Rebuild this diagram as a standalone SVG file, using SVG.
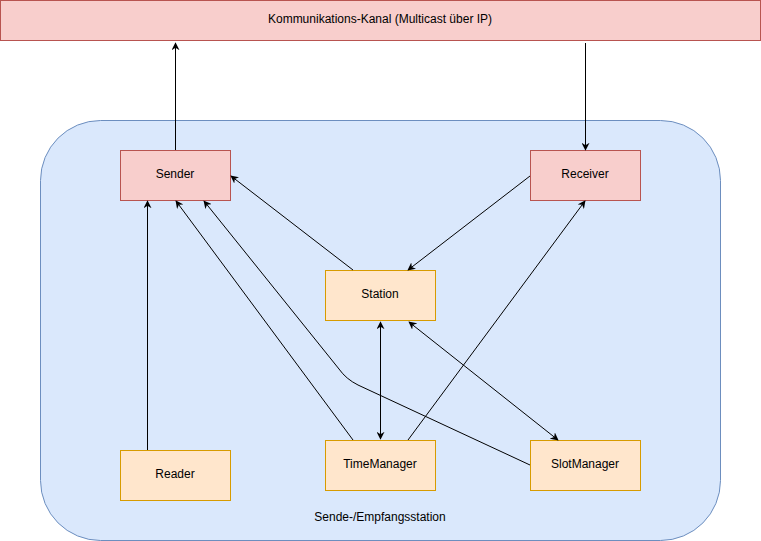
<svg xmlns="http://www.w3.org/2000/svg" width="761" height="541" viewBox="0 0 761 541">
<defs>
<style>
.red{fill:#f8cecc;stroke:#b85450;stroke-width:1}
.org{fill:#ffe6cc;stroke:#d79b00;stroke-width:1}
.t{font-family:"Liberation Sans",Arial,Helvetica,sans-serif;font-size:12px;fill:#000;text-anchor:middle;dominant-baseline:central}
.e{fill:none;stroke:#000;stroke-width:1}
</style>
<marker id="a" viewBox="0 0 10 10" refX="9" refY="5" markerWidth="8" markerHeight="8" orient="auto-start-reverse" markerUnits="userSpaceOnUse">
<path d="M0,0 L10,5 L0,10 L3,5 Z" fill="#000"/>
</marker>
</defs>
<rect width="761" height="541" fill="#fff"/>
<g id="channel"><rect class="red" x="0.5" y="0.5" width="760" height="40"/><text class="t" x="380" y="19">Kommunikations-Kanal (Multicast über IP)</text></g>
<g id="station-container"><rect x="40.5" y="120.5" width="680" height="420" rx="60" ry="60" fill="#dae8fc" stroke="#6c8ebf"/><text class="t" x="380" y="517">Sende-/Empfangsstation</text></g>
<g id="sender"><rect class="red" x="120.5" y="150.5" width="110" height="50"/><text class="t" x="175" y="174">Sender</text></g>
<g id="receiver"><rect class="red" x="530.5" y="150.5" width="110" height="50"/><text class="t" x="585" y="174">Receiver</text></g>
<g id="station"><rect class="org" x="325.5" y="270.5" width="110" height="50"/><text class="t" x="380" y="294">Station</text></g>
<g id="reader"><rect class="org" x="120.5" y="450.5" width="110" height="50"/><text class="t" x="175" y="474">Reader</text></g>
<g id="timemanager"><rect class="org" x="325.5" y="440.5" width="110" height="50"/><text class="t" x="380" y="464">TimeManager</text></g>
<g id="slotmanager"><rect class="org" x="530.5" y="440.5" width="110" height="50"/><text class="t" x="585" y="464">SlotManager</text></g>
<g id="connectors">
<path class="e" d="M175.5,150 L175.5,43" marker-end="url(#a)"/>
<path class="e" d="M585.5,43 L585.5,150" marker-end="url(#a)"/>
<path class="e" d="M353,270 L231,176" marker-end="url(#a)"/>
<path class="e" d="M530,176 L408,270" marker-end="url(#a)"/>
<path class="e" d="M147.5,450 L147.5,201" marker-end="url(#a)"/>
<path class="e" d="M353,440 L176,201" marker-end="url(#a)"/>
<path class="e" d="M530,465 L358,385 Q346,379 339,369 L204,201" marker-end="url(#a)"/>
<path class="e" d="M380.5,322 L380.5,439" marker-start="url(#a)" marker-end="url(#a)"/>
<path class="e" d="M409,322 L558,440" marker-start="url(#a)" marker-end="url(#a)"/>
<path class="e" d="M408,440 L585,201" marker-end="url(#a)"/>
</g>
</svg>
